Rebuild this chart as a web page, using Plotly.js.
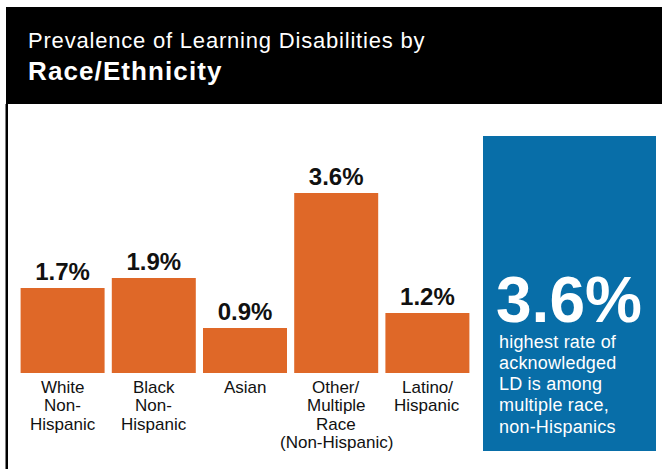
<!DOCTYPE html>
<html><head><meta charset="utf-8">
<script src="https://cdn.plot.ly/plotly-3.0.1.min.js"></script>
<style>html,body{margin:0;padding:0;background:#fff;}#chart{width:662px;height:469px;}</style>
</head><body><div id="chart"></div>
<script>
// ---- data ----
const categories = ["White Non-Hispanic", "Black Non-Hispanic", "Asian", "Other/Multiple Race (Non-Hispanic)", "Latino/Hispanic"];
const categoryLabelLines = [["White", "Non-", "Hispanic"], ["Black", "Non-", "Hispanic"], ["Asian"], ["Other/", "Multiple", "Race", "(Non-Hispanic)"], ["Latino/", "Hispanic"]];
const prevalence = [1.7, 1.9, 0.9, 3.6, 1.2];
const titleLine1 = "Prevalence of Learning Disabilities by";
const titleLine2 = "Race/Ethnicity";
const calloutLines = ["highest rate of", "acknowledged", "LD is among", "multiple race,", "non-Hispanics"];
const calloutValue = Math.max(...prevalence).toFixed(1) + "%";

// ---- layout helpers (pixel -> paper, margins are 0) ----
const W = 662, H = 469;
const FONT = "Liberation Sans, Arial, Helvetica, sans-serif";
const px = x => x / W;
const py = y => 1 - y / H;
const ORANGE = "#df6828";
const BLUE = "#086ea8";

const plotTop = 120, plotBottom = 373, pxPerUnit = 50;

const trace = {
  type: "bar",
  x: categories,
  y: prevalence,
  marker: { color: ORANGE, line: { width: 0 } },
  texttemplate: "%{y:.1f}%",
  textposition: "outside",
  textfont: { family: FONT, size: 24, color: "#111", weight: "bold" },
  cliponaxis: false,
  hoverinfo: "skip"
};

const annotations = [];
function textAt(x, baseline, size, text, opts) {
  annotations.push(Object.assign({
    xref: "paper", yref: "paper", x: px(x), y: py(baseline - 0.35 * size),
    xanchor: "left", yanchor: "middle", showarrow: false, text: text,
    font: { family: FONT, size: size, color: "#fff" }
  }, opts || {}));
}
const spaced = (t, ls) => '<span style="letter-spacing:' + ls + 'px">' + t + '</span>';
textAt(26, 48, 22, spaced(titleLine1, 0.8));
textAt(26, 80, 26, spaced(titleLine2, 1.1), { font: { family: FONT, size: 26, color: "#fff", weight: "bold" } });
textAt(495, 322, 64, calloutValue, { height: 54, borderpad: 0, font: { family: FONT, size: 64, color: "#fff", weight: "bold" } });
calloutLines.forEach((t, i) => textAt(497, 348 + i * 21.25, 18, spaced(t, 0.2)));

// category labels, one annotation per line, tied to the x axis
categories.forEach((c, i) => {
  categoryLabelLines[i].forEach((t, j) => {
    annotations.push({
      xref: "x", yref: "y", x: c, y: 0, yanchor: "middle", xanchor: "center",
      yshift: -(393 - 6 - plotBottom) - j * 18.5,
      showarrow: false, text: t,
      font: { family: FONT, size: 17, color: "#111" }
    });
  });
});

const shapes = [
  { type: "rect", xref: "paper", yref: "paper", x0: px(6), x1: px(662), y0: py(104), y1: py(7), fillcolor: "#000", line: { width: 0 }, layer: "below" },
  { type: "rect", xref: "paper", yref: "paper", x0: px(5.5), x1: px(8), y0: py(469), y1: py(104), fillcolor: "#000", line: { width: 0 }, layer: "below" },
  { type: "rect", xref: "paper", yref: "paper", x0: px(483), x1: px(656), y0: py(451), y1: py(136), fillcolor: BLUE, line: { width: 0 }, layer: "below" }
];

const layout = {
  width: W, height: H,
  margin: { l: 0, r: 0, t: 0, b: 0, pad: 0 },
  paper_bgcolor: "#fff", plot_bgcolor: "rgba(0,0,0,0)",
  showlegend: false,
  bargap: 0.079,
  xaxis: { domain: [px(17), px(473)], type: "category", showticklabels: false, showgrid: false, zeroline: false, showline: false, ticks: "", fixedrange: true },
  yaxis: { domain: [py(plotBottom), py(plotTop)], range: [0, (plotBottom - plotTop) / pxPerUnit], visible: false, showgrid: false, zeroline: false, fixedrange: true },
  annotations: annotations,
  shapes: shapes,
  font: { family: FONT }
};

Plotly.newPlot("chart", [trace], layout, { staticPlot: true, displayModeBar: false });
</script>
</body></html>
